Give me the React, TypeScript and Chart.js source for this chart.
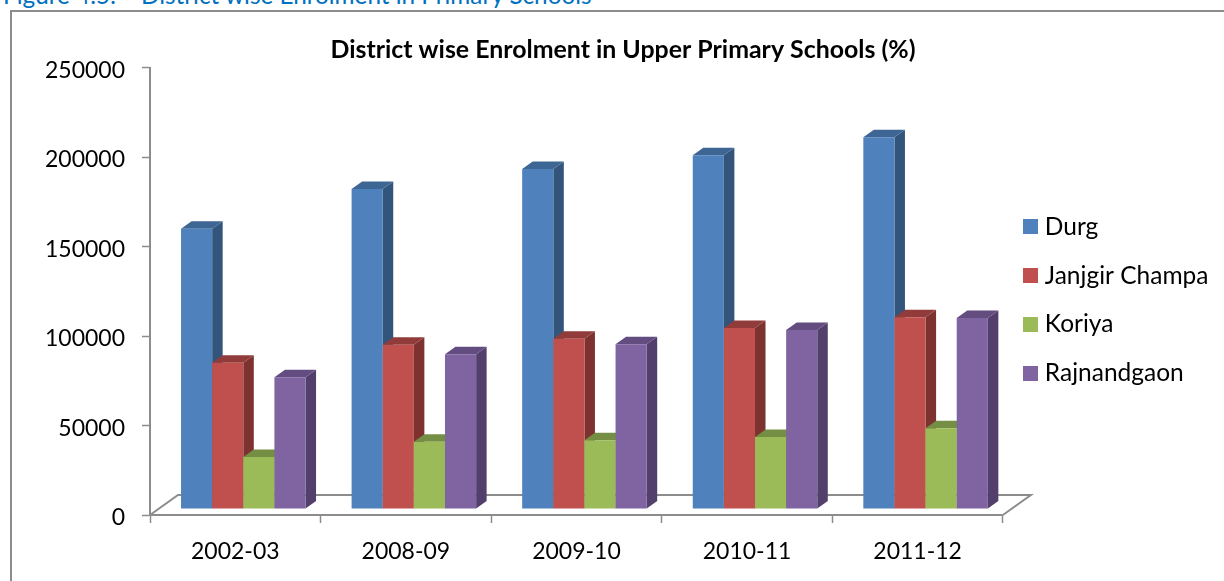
import React, { useEffect, useRef } from "react";
import { Chart, registerables } from "chart.js";

Chart.register(...registerables);

const categories = ["2002-03", "2008-09", "2009-10", "2010-11", "2011-12"];
const seriesNames = ["Durg", "Janjgir Champa", "Koriya", "Rajnandgaon"];
const durg = [156800, 179000, 190200, 197800, 207900];
const janjgirChampa = [81800, 91900, 95200, 101200, 107200];
const koriya = [29100, 37600, 38400, 40300, 45100];
const rajnandgaon = [73700, 86500, 92100, 100100, 106800];
const seriesValues = [durg, janjgirChampa, koriya, rajnandgaon];

const frontColors = ["#4F81BD", "#C0504D", "#9BBB59", "#8064A2"];
const sideColors = ["#33547B", "#7D3230", "#728C42", "#523F6B"];
const topColors = ["#3E6694", "#913C3A", "#748E43", "#634D80"];

const FONT = "Lato, Carlito, sans-serif";
const AXIS = "#8C8C8C";
const BAR_SHIFT_X = 8;
const BAR_SHIFT_Y = -6;
const BAR_DEPTH_X = 10.5;
const BAR_DEPTH_Y = 7.5;
const FLOOR_X = 28;
const FLOOR_Y = 20;
const LEGEND_SHIFT_X = 1.5;
const LEGEND_SHIFT_Y = 9.5;

const poly = (ctx: CanvasRenderingContext2D, color: string, pts: number[][]) => {
  ctx.fillStyle = color;
  ctx.beginPath();
  pts.forEach(([x, y], i) => (i ? ctx.lineTo(x, y) : ctx.moveTo(x, y)));
  ctx.closePath();
  ctx.fill();
};

const swatch = (color: string) => {
  const c = document.createElement("canvas");
  c.width = 15;
  c.height = 15;
  const g = c.getContext("2d")!;
  g.fillStyle = color;
  g.fillRect(0, 0, 15, 15);
  return c;
};

const threeD = {
  id: "threeD",
  afterLayout(chart: any) {
    if (chart.legend) {
      chart.legend.left += LEGEND_SHIFT_X;
      chart.legend.right += LEGEND_SHIFT_X;
      chart.legend.top += LEGEND_SHIFT_Y;
      chart.legend.bottom += LEGEND_SHIFT_Y;
    }
    if (chart.titleBlock) {
      chart.titleBlock.left += 14.5;
      chart.titleBlock.right += 14.5;
    }
  },
  beforeDatasetsDraw(chart: any) {
    const ctx: CanvasRenderingContext2D = chart.ctx;
    const { left, right, bottom } = chart.chartArea;
    // floor of the 3D plot
    ctx.save();
    ctx.strokeStyle = AXIS;
    ctx.lineWidth = 2;
    ctx.beginPath();
    ctx.moveTo(left, bottom);
    ctx.lineTo(left + FLOOR_X, bottom - FLOOR_Y);
    ctx.lineTo(right + FLOOR_X, bottom - FLOOR_Y);
    ctx.lineTo(right, bottom);
    ctx.stroke();
    ctx.restore();

    ctx.save();
    ctx.translate(BAR_SHIFT_X, BAR_SHIFT_Y);
    chart.data.datasets.forEach((_: any, di: number) => {
      const meta = chart.getDatasetMeta(di);
      meta.data.forEach((el: any) => {
        const l = el.x - el.width / 2;
        const r = el.x + el.width / 2;
        const t = el.y;
        const b = el.base;
        poly(ctx, sideColors[di], [
          [r, t],
          [r + BAR_DEPTH_X, t - BAR_DEPTH_Y],
          [r + BAR_DEPTH_X, b - BAR_DEPTH_Y],
          [r, b],
        ]);
        poly(ctx, topColors[di], [
          [l, t],
          [l + BAR_DEPTH_X, t - BAR_DEPTH_Y],
          [r + BAR_DEPTH_X, t - BAR_DEPTH_Y],
          [r, t],
        ]);
        el.draw(ctx);
      });
    });
    ctx.restore();
    return false;
  },
};

export default function App() {
  const ref = useRef<HTMLCanvasElement>(null);
  useEffect(() => {
    document.body.style.margin = "0";
    const chart = new Chart(ref.current!, {
      type: "bar",
      plugins: [threeD],
      data: {
        labels: categories,
        datasets: seriesNames.map((label, i) => ({
          label,
          data: seriesValues[i],
          backgroundColor: frontColors[i],
          borderWidth: 0,
          categoryPercentage: 0.73,
          barPercentage: 1,
        })),
      },
      options: {
        animation: false,
        responsive: false,
        layout: { padding: { left: 0, top: 0, right: 7, bottom: 0 } },
        plugins: {
          tooltip: { enabled: false },
          title: {
            display: true,
            text: "District wise Enrolment in Upper Primary Schools (%)",
            color: "#000000",
            font: { family: FONT, size: 24.9, weight: "bold", lineHeight: 1.2 },
            padding: { top: 35, bottom: 3.1 },
          },
          legend: {
            display: true,
            position: "right",
            align: "center",
            labels: {
              usePointStyle: true,
              pointStyleWidth: 4,
              boxHeight: 15,
              padding: 24.2,
              color: "#000000",
              font: { family: FONT, size: 24.5 },
              generateLabels: (c: any) =>
                c.data.datasets.map((d: any, i: number) => ({
                  text: d.label,
                  fillStyle: d.backgroundColor,
                  strokeStyle: "transparent",
                  lineWidth: 0,
                  pointStyle: swatch(frontColors[i]),
                  datasetIndex: i,
                  hidden: false,
                })),
            },
          },
        },
        scales: {
          x: {
            grid: {
              drawOnChartArea: false,
              drawTicks: true,
              tickLength: 8,
              tickWidth: 1.5,
              tickColor: AXIS,
              offset: true,
            },
            border: { display: true, color: AXIS, width: 2 },
            ticks: {
              color: "#000000",
              autoSkip: false,
              maxRotation: 0,
              padding: 15,
              font: { family: FONT, size: 23 },
            },
            afterFit: (s: any) => {
              s.height = 66;
            },
          },
          y: {
            min: 0,
            max: 250000,
            grid: {
              drawOnChartArea: false,
              drawTicks: true,
              tickLength: 8,
              tickWidth: 1.5,
              tickColor: AXIS,
            },
            border: { display: true, color: AXIS, width: 2 },
            ticks: {
              color: "#000000",
              stepSize: 50000,
              padding: 17,
              labelOffset: 2.5,
              font: { family: FONT, size: 23 },
              callback: (v: any) => String(v),
            },
            afterFit: (s: any) => {
              s.width = 150;
            },
          },
        },
      },
    } as any);
    return () => chart.destroy();
  }, []);
  return (
    <div style={{ position: "fixed", left: 0, top: 0, width: 1224, height: 581, overflow: "hidden", background: "#fff" }}>
      <div
        style={{
          position: "absolute",
          left: 3,
          top: -17,
          whiteSpace: "pre",
          color: "#0070C0",
          font: `24.3px ${FONT}`,
          lineHeight: "24px",
        }}
      >
        {"Figure 4.5:    District wise Enrolment in Primary Schools"}
      </div>
      <div
        style={{
          position: "absolute",
          left: 10,
          top: 10,
          right: 0,
          bottom: 0,
          borderLeft: `2px solid ${AXIS}`,
          borderTop: `2px solid ${AXIS}`,
        }}
      />
      <canvas ref={ref} width={1224} height={581} style={{ position: "absolute", left: 0, top: 0 }} />
    </div>
  );
}
